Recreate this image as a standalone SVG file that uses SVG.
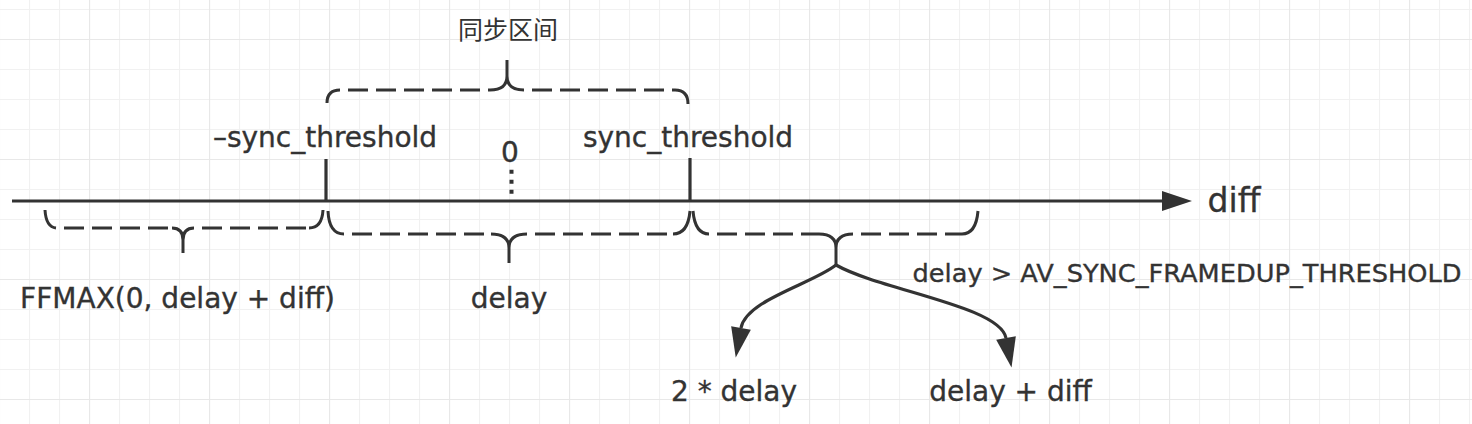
<svg xmlns="http://www.w3.org/2000/svg" width="1472" height="424" viewBox="0 0 1472 424">
  <defs>
    <pattern id="gridMinor" patternUnits="userSpaceOnUse" x="29" y="9" width="30" height="30">
      <path d="M0.5,0 V30 M0,0.5 H30" fill="none" stroke="#f1f1f1" stroke-width="1.2"/>
    </pattern>
    <pattern id="gridMajor" patternUnits="userSpaceOnUse" x="89" y="39" width="120" height="120">
      <path d="M0.5,0 V120 M0,0.5 H120" fill="none" stroke="#e8e8e8" stroke-width="1.2"/>
    </pattern>
    <marker id="arrow" viewBox="0 0 30 20" markerUnits="userSpaceOnUse" markerWidth="31" markerHeight="20" refX="0" refY="10" orient="auto">
      <path d="M0,0 L30,10 L0,20 Z" fill="#333333"/>
    </marker>
    <style>
      .txt { font-family: "DejaVu Sans", "Noto Sans", sans-serif; fill: #333333; stroke: #333333; stroke-width: 0.35; text-anchor: middle; }
      .cjk { font-family: "Noto Sans CJK SC", "Noto Sans", sans-serif; fill: #333333; text-anchor: middle; }
      .line { fill: none; stroke: #333333; stroke-width: 3.2; }
      .bsolid { fill: none; stroke: #333333; stroke-width: 3; }
      .bdash { fill: none; stroke: #333333; stroke-width: 3; stroke-dasharray: 20 8; stroke-dashoffset: 20; }
      .dots { fill: none; stroke: #333333; stroke-width: 4; stroke-dasharray: 4 6; }
    </style>
  </defs>

  <g id="background">
    <rect x="0" y="0" width="1472" height="424" fill="#ffffff"/>
    <rect x="0" y="0" width="1472" height="424" fill="url(#gridMinor)"/>
    <rect x="0" y="0" width="1472" height="424" fill="url(#gridMajor)"/>
  </g>

  <g id="connectors">
    <path id="axis" class="line" d="M12,201 L1162,201" marker-end="url(#arrow)"/>
    <path id="arrow-2delay" class="line" d="M836,265 C812,284 746,300 741,328" marker-end="url(#arrow)"/>
    <path id="arrow-delay-diff" class="line" d="M836,265 C880,290 1000,306 1006,338" marker-end="url(#arrow)"/>
  </g>

  <g id="axis-label">
    <text class="txt" x="1234" y="212" font-size="33">diff</text>
  </g>

  <g id="tick-neg">
    <path class="line" d="M326,159 V201"/>
    <text class="txt" x="325" y="147" font-size="28">–sync_threshold</text>
  </g>

  <g id="tick-zero">
    <path class="dots" d="M511.5,169.7 V194"/>
    <text class="txt" x="510" y="162" font-size="28">0</text>
  </g>

  <g id="tick-pos">
    <path class="line" d="M690,158 V201"/>
    <text class="txt" x="688" y="147" font-size="28">sync_threshold</text>
  </g>

  <g id="brace-sync">
    <path class="bsolid" d="M327,103 Q327,90 340,90 M490,90 Q507,90 507,76 L507,60 M524,90 Q507,90 507,76 M675,90 Q688,90 688,104"/>
    <path class="bdash" d="M340,90 H490 M524,90 H675"/>
    <text class="cjk" x="508" y="39" font-size="25">同步区间</text>
  </g>

  <g id="brace-left">
    <path class="bsolid" d="M45,210 Q46,227 56,228 M172,228 Q183,228 183,240 L183,253 M194,228 Q183,228 183,240 M309,228 Q322,228 323,210"/>
    <path class="bdash" d="M56,228 H172 M194,228 H309"/>
    <text class="txt" x="177.5" y="308" font-size="28">FFMAX(0, delay + diff)</text>
  </g>

  <g id="brace-middle">
    <path class="bsolid" d="M328,211 Q329,234 344,234 M491,234 Q509,234 509,248 L509,263 M527,234 Q509,234 509,248 M673,234 Q688,234 690,211"/>
    <path class="bdash" d="M344,234 H491 M527,234 H673"/>
    <text class="txt" x="509" y="308" font-size="28">delay</text>
  </g>

  <g id="brace-right">
    <path class="bsolid" d="M693,211 Q695,234 709,234 M819,234 Q836,234 836,248 L836,265 M853,234 Q836,234 836,248 M962,234 Q976,234 978,211"/>
    <path class="bdash" d="M709,234 H819 M853,234 H962"/>
    <text class="txt" x="1187" y="282" font-size="25" textLength="549" lengthAdjust="spacingAndGlyphs">delay &gt; AV_SYNC_FRAMEDUP_THRESHOLD</text>
  </g>

  <g id="result-2delay">
    <text class="txt" x="734" y="401" font-size="28">2 * delay</text>
  </g>

  <g id="result-delay-diff">
    <text class="txt" x="1010.5" y="401" font-size="28">delay + diff</text>
  </g>
</svg>
